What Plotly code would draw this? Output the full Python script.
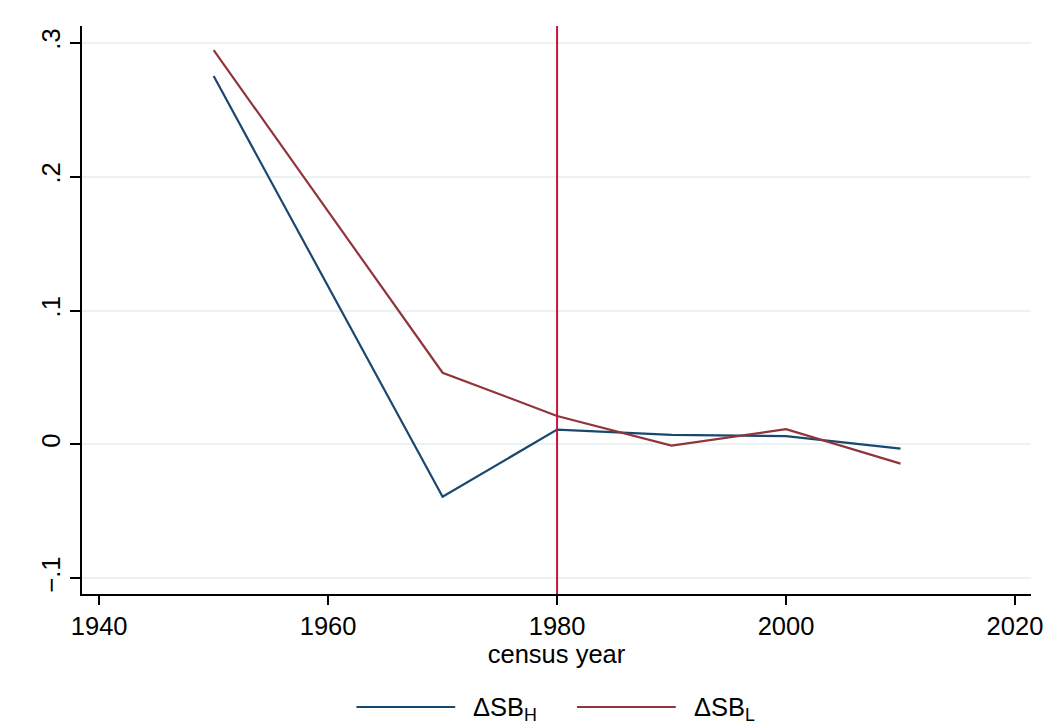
import plotly.graph_objects as go

years = [1950, 1970, 1980, 1990, 2000, 2010]
dsb_h = [0.2752, -0.0390, 0.0111, 0.0071, 0.0063, -0.0031]
dsb_l = [0.2946, 0.0536, 0.0213, -0.0009, 0.0114, -0.0143]
x_ticks = [1940, 1960, 1980, 2000, 2020]
y_ticks = [-0.1, 0, 0.1, 0.2, 0.3]
y_ticktext = ["\u2212.1", "0", ".1", ".2", ".3"]
ref_year = 1980

blue = "#1a476f"
red = "#90353b"
font = "Liberation Sans, Arial, sans-serif"
fs = 25.5

fig = go.Figure()
fig.add_trace(go.Scatter(x=years, y=dsb_h, mode="lines", line=dict(color=blue, width=2.2),
                         name="ΔSB<sub>H</sub>", showlegend=False))
fig.add_trace(go.Scatter(x=years, y=dsb_l, mode="lines", line=dict(color=red, width=2.2),
                         name="ΔSB<sub>L</sub>", showlegend=False))
fig.add_vline(x=ref_year, line=dict(color="#c8143c", width=2), layer="above")

L, R, T, B = 82, 22, 26, 133
W, H = 1055, 727
pw, ph = W - L - R, H - T - B

def px(x):
    return (x - L) / pw

def py(y):
    return (H - B - y) / ph

# manual legend
for x0, x1, tx, col, lab in [(357, 456, 472, blue, "ΔSB<sub>H</sub>"),
                             (578, 677, 693, red, "ΔSB<sub>L</sub>")]:
    fig.add_shape(type="line", xref="paper", yref="paper", x0=px(x0), x1=px(x1),
                  y0=py(707), y1=py(707), line=dict(color=col, width=2.2))
    fig.add_annotation(xref="paper", yref="paper", x=px(tx), y=py(709), text=lab,
                       showarrow=False, xanchor="left", yanchor="middle",
                       font=dict(family=font, size=fs, color="black"))

fig.update_layout(
    width=W, height=H,
    margin=dict(l=L, r=R, t=T, b=B),
    plot_bgcolor="white", paper_bgcolor="white",
    font=dict(family=font, size=fs, color="black"),
)
fig.update_xaxes(range=[1938.5, 2021.4], tickvals=x_ticks, ticks="outside", ticklen=9,
                 tickwidth=1.5, tickcolor="black", showline=True, linecolor="black",
                 linewidth=1.5, showgrid=False, zeroline=False,
                 title=dict(text="census year", standoff=1, font=dict(size=fs)),
                 tickfont=dict(size=fs))
fig.update_yaxes(range=[-0.1117, 0.3126], tickvals=y_ticks, ticktext=y_ticktext,
                 tickangle=-90, ticks="outside", ticklen=10, tickwidth=1.5, tickcolor="black",
                 showline=True, linecolor="black", linewidth=1.5, showgrid=True,
                 gridcolor="#eaf2f3", gridwidth=1.5, zeroline=False, tickfont=dict(size=fs))

fig.write_html("out.html", config={"displayModeBar": False},
               post_script="document.body.style.margin='0';document.body.style.overflow='hidden';")
